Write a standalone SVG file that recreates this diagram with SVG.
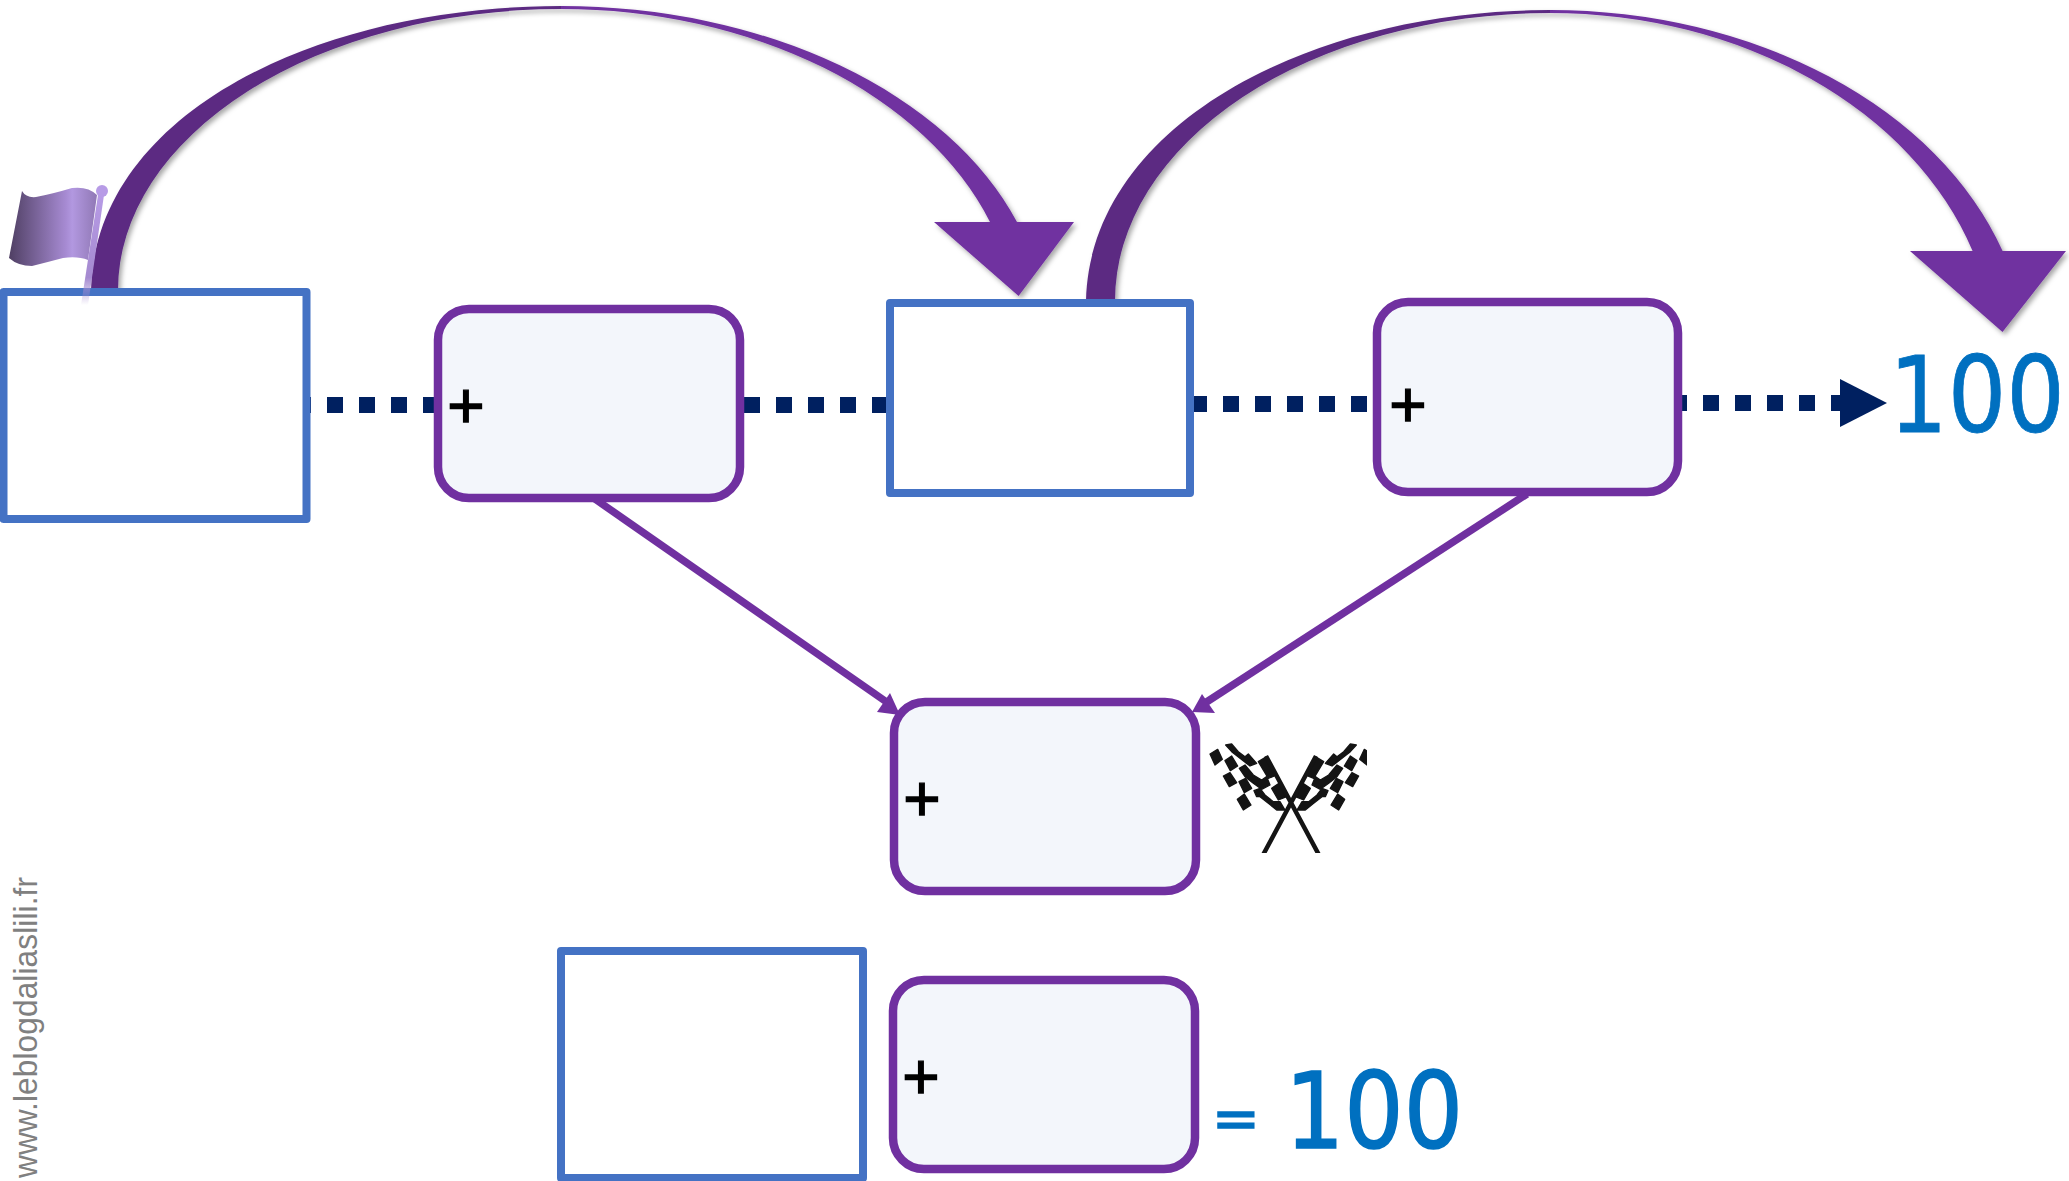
<svg xmlns="http://www.w3.org/2000/svg" xmlns:xlink="http://www.w3.org/1999/xlink" width="2069" height="1181" viewBox="0 0 2069 1181">
<style>
.blue{fill:#fff;stroke:#4472C4;stroke-width:8;stroke-linejoin:round}
.pur{fill:#F3F6FB;stroke:#7030A0;stroke-width:8.5}
.dots{fill:none;stroke:#002060;stroke-width:16}
.thin{fill:none;stroke:#7030A0;stroke-width:7.5}
.plus{font-family:"Liberation Sans",Arial,sans-serif;font-size:64px;fill:#000;stroke:#000;stroke-width:1.4;text-anchor:middle}
.num{font-family:"DejaVu Sans",sans-serif;font-size:105px;fill:#0070C0;stroke:#0070C0;stroke-width:1.6}
.dark{fill:#5B2A82}.light{fill:#7030A0}
</style>
<defs>
<filter id="sh" x="-5%" y="-5%" width="110%" height="110%"><feDropShadow dx="2.5" dy="3" stdDeviation="2.5" flood-color="#000" flood-opacity="0.35"/></filter>
<linearGradient id="fg" x1="0" x2="1" y1="0" y2="0"><stop offset="0" stop-color="#4F3F63"/><stop offset=".65" stop-color="#A78BD3"/><stop offset=".72" stop-color="#B298E0"/><stop offset="1" stop-color="#9078B5"/></linearGradient>
<linearGradient id="pg" x1="0" x2="0" y1="0" y2="1"><stop offset="0" stop-color="#B79BE6"/><stop offset=".75" stop-color="#A58AD0"/><stop offset="1" stop-color="#A58AD0" stop-opacity="0"/></linearGradient>
<clipPath id="fc"><rect x="1205" y="740" width="162" height="113"/></clipPath>
<g id="cf" fill="#141414" stroke="#141414" stroke-width="4" stroke-linejoin="round" transform="translate(1205,740) scale(0.3333)">
<polygon points="15,42 38,28 52,58 30,75"/>
<polygon points="60,62 80,48 98,78 76,92"/>
<polygon points="55,108 75,98 95,128 73,140"/>
<polygon points="102,125 122,115 140,145 118,158"/>
<polygon points="97,178 118,162 138,195 115,210"/>
<polygon points="62,15 80,12 100,35 120,50 130,42 155,70 135,78 105,55 80,35"/>
<polygon points="160,65 185,50 215,105 190,115"/>
<polygon points="103,85 120,75 145,105 170,120 185,110 195,135 170,148 145,130 120,110"/>
<polygon points="200,145 222,130 245,170 220,180"/>
<polygon points="147,152 165,145 180,165 205,185 225,185 240,210 215,210 190,190 165,170 155,170"/>
</g>
</defs>
<g id="connectors">
<g filter="url(#sh)">
<path class="dark" d="M91 290C95 115 315 6 561 6L561 9A443 281 0 0 0 118 290Z"/>
<path class="light" d="M561 6A484 326 0 0 1 1017 222L990 222A455.5 321 0 0 0 561 9Z"/>
<polygon class="light" points="934,222 1074,222 1018.6,296"/>
<path class="dark" d="M1086 301C1090 125 1310 10 1550 10L1550 13A435 288 0 0 0 1115 301Z"/>
<path class="light" d="M1550 10A477 352 0 0 1 2002.6 251L1972.6 251A445 347 0 0 0 1550 13Z"/>
<polygon class="light" points="1910,251 2066,251 2002.5,332"/>
</g>
<path class="dots" stroke-dasharray="16 16" d="M295 405H436"/>
<path class="dots" stroke-dasharray="16 16" d="M744 405H888"/>
<path class="dots" stroke-dasharray="16 16" d="M1191 404H1372"/>
<path class="dots" stroke-dasharray="16 16" stroke-dashoffset="11" d="M1682 403H1840"/>
<polygon fill="#002060" points="1840,379 1887,403 1840,427"/>
<path class="thin" d="M595 499L888 703"/>
<polygon class="light" points="900,715 877,712 890,693"/>
<path class="thin" d="M1527 494L1205 703"/>
<polygon class="light" points="1192,712 1202,694 1215,713"/>
</g>
<g id="node-1"><rect class="blue" x="3.5" y="292" width="303" height="227"/></g>
<g id="node-2"><rect class="pur" x="438" y="309" width="302" height="189" rx="31"/><text class="plus" x="466" y="428">+</text></g>
<g id="node-3"><rect class="blue" x="890" y="303" width="300" height="190"/></g>
<g id="node-4"><rect class="pur" x="1377" y="302" width="301" height="190" rx="31"/><text class="plus" x="1408" y="427">+</text></g>
<g id="node-5"><rect class="pur" x="894" y="702" width="302" height="189" rx="31"/><text class="plus" x="922" y="821">+</text></g>
<g id="node-6"><rect class="blue" x="561" y="951" width="302" height="227"/></g>
<g id="node-7"><rect class="pur" x="893" y="980" width="302" height="189" rx="31"/><text class="plus" x="921" y="1099">+</text></g>
<g id="flag">
<path fill="url(#fg)" d="M22 191Q26 198 36 197Q52 194 72 188Q88 186 97 195L88 260Q78 256 63 258Q48 262 32 266Q18 266 9 258Z"/>
<polygon fill="url(#pg)" points="98,195 104,195 88,305 81,305"/>
<circle cx="102" cy="191" r="6" fill="#B79BE6"/>
</g>
<g id="finish" clip-path="url(#fc)">
<use xlink:href="#cf" href="#cf"/>
<use xlink:href="#cf" href="#cf" transform="translate(2582,0) scale(-1,1)"/>
<path d="M1266 756L1319 855M1316 756L1263 855" stroke="#141414" stroke-width="4.5" fill="none"/>
</g>
<text class="num" transform="translate(1889,432) scale(0.878,1)" style="stroke-width:0.8">100</text>
<text class="num" transform="translate(1285,1148) scale(0.888,1)">100</text>
<text class="num" x="1212" y="1138" style="font-size:57px">=</text>
<text transform="translate(37,1178) rotate(-90) scale(1,1.06)" font-family="Liberation Sans, Arial, sans-serif" font-size="31.6" textLength="301" fill="#808080">www.leblogdaliaslili.fr</text>
</svg>
